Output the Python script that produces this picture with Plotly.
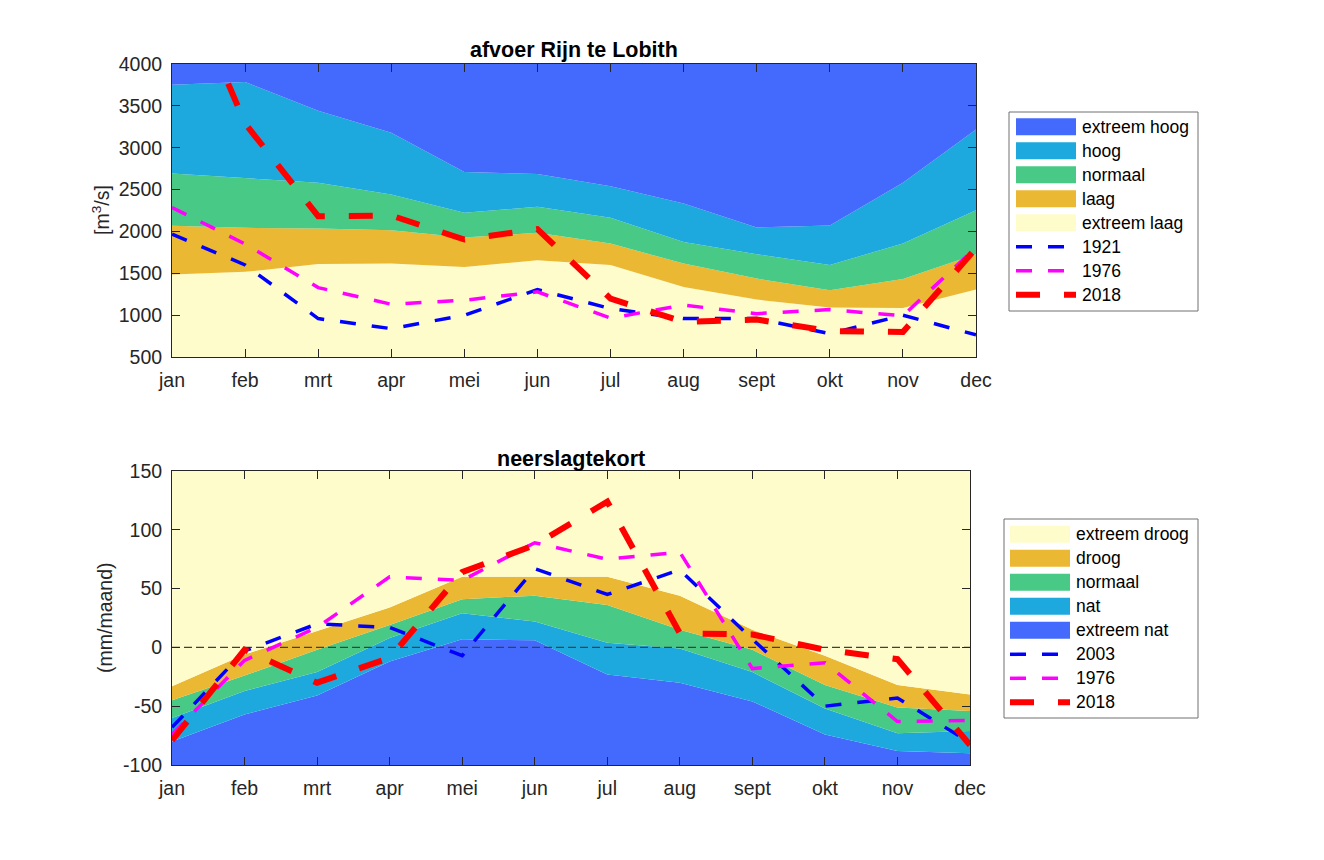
import plotly.graph_objects as go

# maanden op de x-as
maanden = ['jan', 'feb', 'mrt', 'apr', 'mei', 'jun', 'jul', 'aug', 'sept', 'okt', 'nov', 'dec']

# afvoer Rijn te Lobith [m3/s] - bovengrenzen van de klassen
afvoer_extreem_laag = [1485, 1517, 1612, 1616, 1576, 1656, 1600, 1337, 1186, 1090, 1086, 1305]
afvoer_laag = [2067, 2043, 2035, 2015, 1927, 1983, 1855, 1616, 1437, 1297, 1433, 1728]
afvoer_normaal = [2693, 2641, 2581, 2441, 2222, 2294, 2162, 1875, 1728, 1600, 1855, 2254]
afvoer_hoog = [3753, 3785, 3442, 3179, 2709, 2685, 2541, 2334, 2047, 2071, 2581, 3219]
afvoer_plafond = [4000, 4000, 4000, 4000, 4000, 4000, 4000, 4000, 4000, 4000, 4000, 4000]

# afvoer in de droge jaren
afvoer_1921 = [1967, 1600, 959, 839, 999, 1305, 1078, 959, 959, 779, 999, 765]
afvoer_1976 = [2286, 1850, 1329, 1130, 1178, 1278, 965, 1120, 1018, 1066, 992, 1808]
afvoer_2018 = [5350, 3290, 2182, 2190, 1903, 2027, 1198, 919, 947, 810, 799, 1800]

# neerslagtekort (mm/maand) - bovengrenzen van de klassen
tekort_bodem = [-100, -100, -100, -100, -100, -100, -100, -100, -100, -100, -100, -100]
tekort_extreem_nat = [-80, -57, -41, -12, 7, 6, -23, -30, -46, -74, -88, -90]
tekort_nat = [-60, -37, -21, 8, 29, 22, 4, -1, -21, -52, -73, -71]
tekort_normaal = [-45, -24, -2, 19, 41, 44, 36, 15, -2, -32, -51, -54]
tekort_droog = [-33, -6, 14, 34, 60, 60, 60, 44, 15, -7, -32, -40]
tekort_plafond = [150, 150, 150, 150, 150, 150, 150, 150, 150, 150, 150, 150]

tekort_2003 = [-68, -3, 20, 17, -7, 67, 45, 66, 7, -50, -43, -81]
tekort_1976 = [-74, -11, 17, 60, 57, 89, 75, 81, -18, -13, -63, -62]
tekort_2018 = [-79, -2, -30, -9, 64, 87, 124, 12, 11, -2, -10, -83]

afvoer_ticks = [500, 1000, 1500, 2000, 2500, 3000, 3500, 4000]
tekort_ticks = [-100, -50, 0, 50, 100, 150]
tekort_ticklabels = ['-100', '-50', '0', '50', '100', '150']

# kleuren
c_ext_blauw = '#4469FD'
c_blauw = '#1DA9DD'
c_groen = '#48CA86'
c_oranje = '#EAB832'
c_geel = '#FEFCCB'

FONT = 'Liberation Sans, Arial, Helvetica, sans-serif'
# de pagina heeft 8px body-marge; figuur is daarom 16px kleiner dan het venster
OFF = 8
W, H = 1324 - 2 * OFF, 860 - 2 * OFF


def px(x):
    return (x - OFF) / W


def py(y):
    return 1 - (y - OFF) / H


fig = go.Figure()

# bovenste grafiek: klassen
banden_boven = [
    ('extreem laag', afvoer_extreem_laag, c_geel, 'tozeroy'),
    ('laag', afvoer_laag, c_oranje, 'tonexty'),
    ('normaal', afvoer_normaal, c_groen, 'tonexty'),
    ('hoog', afvoer_hoog, c_blauw, 'tonexty'),
    ('extreem hoog', afvoer_plafond, c_ext_blauw, 'tonexty'),
]
for naam, y, kleur, fill in banden_boven:
    fig.add_trace(go.Scatter(x=maanden, y=y, name=naam, mode='lines', line=dict(width=0, color=kleur),
                             fill=fill, fillcolor=kleur, xaxis='x', yaxis='y', showlegend=False,
                             hoverinfo='skip'))

lijnen_boven = [
    ('1921', afvoer_1921, 'blue', 3.5, '16px,16px'),
    ('1976', afvoer_1976, 'magenta', 3.5, '16px,16px'),
    ('2018', afvoer_2018, 'red', 6, '24px,24px'),
]
for naam, y, kleur, w, dash in lijnen_boven:
    fig.add_trace(go.Scatter(x=maanden, y=y, name=naam, mode='lines',
                             line=dict(color=kleur, width=w, dash=dash),
                             xaxis='x', yaxis='y', showlegend=False))

# onderste grafiek: klassen
fig.add_trace(go.Scatter(x=maanden, y=tekort_bodem, mode='lines', line=dict(width=0),
                         xaxis='x2', yaxis='y2', showlegend=False, hoverinfo='skip'))
banden_onder = [
    ('extreem nat', tekort_extreem_nat, c_ext_blauw),
    ('nat', tekort_nat, c_blauw),
    ('normaal', tekort_normaal, c_groen),
    ('droog', tekort_droog, c_oranje),
    ('extreem droog', tekort_plafond, c_geel),
]
for naam, y, kleur in banden_onder:
    fig.add_trace(go.Scatter(x=maanden, y=y, name=naam, mode='lines', line=dict(width=0, color=kleur),
                             fill='tonexty', fillcolor=kleur, xaxis='x2', yaxis='y2', showlegend=False,
                             hoverinfo='skip'))

# nullijn
fig.add_trace(go.Scatter(x=[maanden[0], maanden[-1]], y=[0, 0], mode='lines',
                         line=dict(color='#404040', width=1.2, dash='8px,4px'),
                         xaxis='x2', yaxis='y2', showlegend=False, hoverinfo='skip'))

lijnen_onder = [
    ('2003', tekort_2003, 'blue', 3.5, '16px,16px'),
    ('1976', tekort_1976, 'magenta', 3.5, '16px,16px'),
    ('2018', tekort_2018, 'red', 6, '24px,24px'),
]
for naam, y, kleur, w, dash in lijnen_onder:
    fig.add_trace(go.Scatter(x=maanden, y=y, name=naam, mode='lines',
                             line=dict(color=kleur, width=w, dash=dash),
                             xaxis='x2', yaxis='y2', showlegend=False))

as_stijl = dict(showgrid=False, zeroline=False, showline=True, linecolor='#262626', linewidth=1,
                mirror='ticks', ticks='inside', ticklen=8, tickcolor='#262626', tickwidth=1,
                automargin=False, tickfont=dict(family=FONT, size=19.5, color='#262626'))

fig.update_layout(
    width=W, height=H,
    margin=dict(l=0, r=0, t=0, b=0, pad=0, autoexpand=False),
    paper_bgcolor='white', plot_bgcolor='white',
    showlegend=False,
    font=dict(family=FONT, color='#262626'),
    xaxis=dict(domain=[px(172), px(976)], anchor='y', type='category', range=[0, 11],
               categoryorder='array', categoryarray=maanden, ticklabelstandoff=6, **as_stijl),
    yaxis=dict(domain=[py(357), py(64)], anchor='x', range=[500, 4000],
               tickvals=afvoer_ticks, ticklabelstandoff=5, **as_stijl),
    xaxis2=dict(domain=[px(172), px(970)], anchor='y2', type='category', range=[0, 11],
                categoryorder='array', categoryarray=maanden, ticklabelstandoff=6, **as_stijl),
    yaxis2=dict(domain=[py(765), py(471)], anchor='x2', range=[-100, 150],
                tickvals=tekort_ticks, ticktext=tekort_ticklabels, ticklabelstandoff=5, **as_stijl),
)

# titels en as-labels
fig.add_annotation(text='<b>afvoer Rijn te Lobith</b>', x=px(574), y=py(50),
                   xref='paper', yref='paper', xanchor='center', yanchor='middle', showarrow=False,
                   font=dict(family=FONT, size=21.5, color='black'))
fig.add_annotation(text='<b>neerslagtekort</b>', x=px(571), y=py(459),
                   xref='paper', yref='paper', xanchor='center', yanchor='middle', showarrow=False,
                   font=dict(family=FONT, size=21.5, color='black'))
fig.add_annotation(text='[m<sup>3</sup>/s]', x=px(101), y=py(210), textangle=-90,
                   xref='paper', yref='paper', xanchor='center', yanchor='middle', showarrow=False,
                   font=dict(family=FONT, size=19.5, color='#262626'))
fig.add_annotation(text='(mm/maand)', x=px(105), y=py(618), textangle=-90,
                   xref='paper', yref='paper', xanchor='center', yanchor='middle', showarrow=False,
                   font=dict(family=FONT, size=19.5, color='#262626'))


# legenda's handmatig getekend (MATLAB-stijl)
def legenda(x0, x1, y0, y1, sw_x0, tekst_x, rij0, items):
    fig.add_shape(type='rect', xref='paper', yref='paper', x0=px(x0), x1=px(x1),
                  y0=py(y1), y1=py(y0), line=dict(color='#707070', width=1),
                  fillcolor='white', layer='above')
    for i, (naam, soort, kleur, extra) in enumerate(items):
        yc = rij0 + 24 * i
        if soort == 'vlak':
            fig.add_shape(type='rect', xref='paper', yref='paper', x0=px(sw_x0), x1=px(sw_x0 + 60),
                          y0=py(yc + 8.5), y1=py(yc - 8.5),
                          line=dict(width=0), fillcolor=kleur, layer='above')
        else:
            w, dash = extra
            fig.add_shape(type='line', xref='paper', yref='paper', x0=px(sw_x0), x1=px(sw_x0 + 60),
                          y0=py(yc), y1=py(yc),
                          line=dict(color=kleur, width=w, dash=dash), layer='above')
        fig.add_annotation(text=naam, x=px(tekst_x), y=py(yc), xref='paper', yref='paper',
                           xanchor='left', yanchor='middle', showarrow=False,
                           font=dict(family=FONT, size=17.5, color='black'))


items_boven = [(naam, 'vlak', kleur, None) for naam, _, kleur, _ in banden_boven[::-1]]
items_boven += [(naam, 'lijn', kleur, (w, dash)) for naam, _, kleur, w, dash in lijnen_boven]
legenda(1009, 1198, 112, 311, 1016, 1080, 126.7, items_boven)

items_onder = [(naam, 'vlak', kleur, None) for naam, _, kleur in banden_onder[::-1]]
items_onder += [(naam, 'lijn', kleur, (w, dash)) for naam, _, kleur, w, dash in lijnen_onder]
legenda(1004, 1198, 519, 718, 1010, 1074, 534.3, items_onder)

fig.write_html("out.html", config={'displayModeBar': False})
